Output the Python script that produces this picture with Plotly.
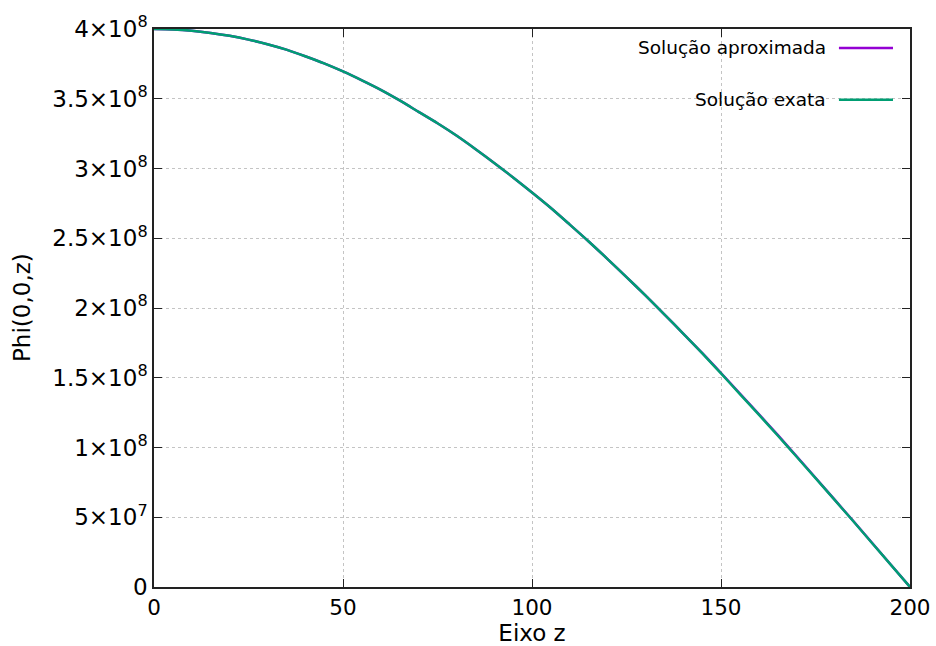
import plotly.graph_objects as go

z = [0, 5, 10, 15, 20, 25, 30, 35, 40, 45, 50, 55, 60, 65, 70, 75, 80, 85, 90, 95, 100,
     105, 110, 115, 120, 125, 130, 135, 140, 145, 150, 155, 160, 165, 170, 175, 180, 185, 190, 195, 200]
phi_exata = [4.000e8, 3.997e8, 3.988e8, 3.972e8, 3.951e8, 3.924e8, 3.891e8, 3.852e8, 3.805e8, 3.754e8,
             3.696e8, 3.632e8, 3.564e8, 3.488e8, 3.406e8, 3.324e8, 3.236e8, 3.140e8, 3.040e8, 2.936e8,
             2.828e8, 2.717e8, 2.598e8, 2.477e8, 2.351e8, 2.222e8, 2.090e8, 1.955e8, 1.816e8, 1.676e8,
             1.531e8, 1.383e8, 1.236e8, 1.086e8, 0.934e8, 0.780e8, 0.626e8, 0.471e8, 0.314e8, 0.157e8, 0.0]
phi_aprox = [4.000e8, 3.997e8, 3.988e8, 3.972e8, 3.951e8, 3.924e8, 3.891e8, 3.852e8, 3.805e8, 3.754e8,
             3.696e8, 3.632e8, 3.564e8, 3.488e8, 3.406e8, 3.324e8, 3.236e8, 3.140e8, 3.040e8, 2.936e8,
             2.828e8, 2.717e8, 2.598e8, 2.477e8, 2.351e8, 2.222e8, 2.090e8, 1.955e8, 1.816e8, 1.678e8,
             1.534e8, 1.387e8, 1.240e8, 1.090e8, 0.937e8, 0.783e8, 0.628e8, 0.473e8, 0.315e8, 0.158e8, 0.0]

ytick_vals = [0, 5e7, 1e8, 1.5e8, 2e8, 2.5e8, 3e8, 3.5e8, 4e8]
ytick_text = ["0", "5×10<sup>7</sup>", "1×10<sup>8</sup>", "1.5×10<sup>8</sup>", "2×10<sup>8</sup>",
              "2.5×10<sup>8</sup>", "3×10<sup>8</sup>", "3.5×10<sup>8</sup>", "4×10<sup>8</sup>"]
xtick_vals = [0, 50, 100, 150, 200]
legend_names = ["Solução aproximada", "Solução exata"]
colors = ["#9400d3", "#009e73"]

FONT = "DejaVu Sans"

fig = go.Figure()
fig.add_trace(go.Scatter(x=z, y=phi_aprox, mode="lines",
                         line=dict(color=colors[0], width=2.5, shape="spline", smoothing=0.8),
                         name=legend_names[0], showlegend=False))
fig.add_trace(go.Scatter(x=z, y=phi_exata, mode="lines",
                         line=dict(color=colors[1], width=2.5, shape="spline", smoothing=0.8),
                         name=legend_names[1], showlegend=False))

axis_common = dict(showline=True, linecolor="#222222", linewidth=1.5, mirror="ticks", ticks="inside",
                   ticklen=8, tickcolor="#222222", showgrid=True, gridcolor="#c4c4c4", griddash="dot",
                   gridwidth=1, zeroline=False, automargin=False)

fig.update_xaxes(range=[0, 200], tickvals=xtick_vals,
                 tickfont=dict(family=FONT, size=21.5, color="black"),
                 title=dict(text="Eixo z", font=dict(family=FONT, size=23, color="black"), standoff=6),
                 **axis_common)
fig.update_yaxes(range=[0, 4e8], tickvals=ytick_vals, ticktext=ytick_text,
                 tickfont=dict(family=FONT, size=23, color="black"),
                 **axis_common)

# y-axis title
fig.add_annotation(xref="paper", yref="paper", x=0, y=0.5, xshift=-132, text="Phi(0,0,z)",
                   textangle=-90, showarrow=False, xanchor="center", yanchor="middle",
                   font=dict(family=FONT, size=23, color="black"))

# legend box (white background over grid) and manual legend entries
fig.add_shape(type="rect", xref="paper", yref="paper", x0=0.615, x1=0.997, y0=0.85, y1=0.996,
              fillcolor="white", line=dict(width=0), layer="between")
legend_y = [0.966, 0.873]
for name, col, yy in zip(legend_names, colors, legend_y):
    fig.add_annotation(xref="paper", yref="paper", x=0.892, y=yy, text=name, showarrow=False,
                       xanchor="right", yanchor="middle", font=dict(family=FONT, size=18.5, color="black"))
    fig.add_shape(type="line", xref="paper", yref="paper", x0=0.906, x1=0.9775, y0=yy, y1=yy,
                  line=dict(color=col, width=2.5))

fig.update_layout(width=936, height=646, margin=dict(l=154, r=26, t=29, b=59),
                  plot_bgcolor="white", paper_bgcolor="white", font=dict(family=FONT, color="black"))

fig.write_html("out.html")
